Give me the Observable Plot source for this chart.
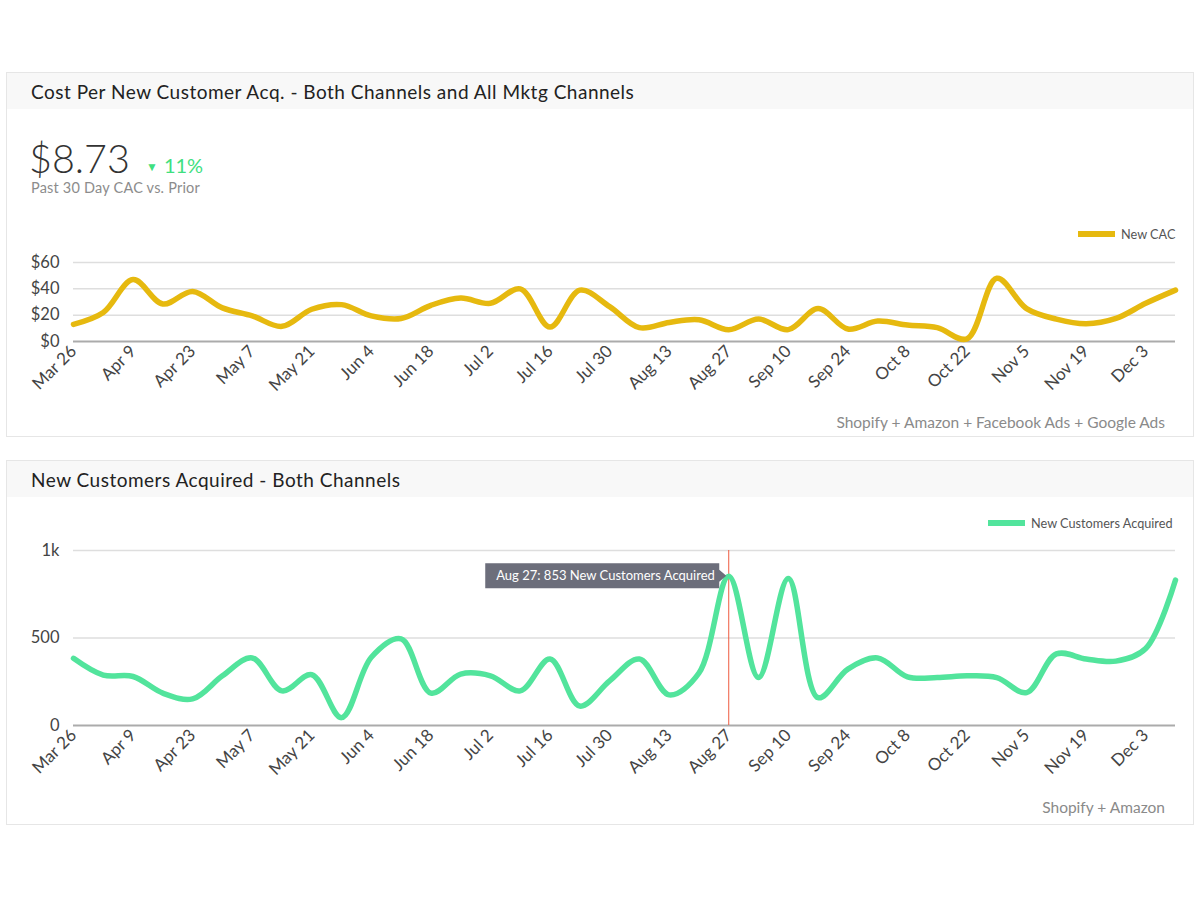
<!DOCTYPE html>
<html><head><meta charset="utf-8">
<script src="https://cdn.jsdelivr.net/npm/d3@7"></script>
<script src="https://cdn.jsdelivr.net/npm/@observablehq/plot@0.6"></script>
<style>
body{margin:0;width:1200px;height:900px;position:relative;background:#fff;font-family:Lato,"Open Sans",sans-serif;overflow:hidden;}
.card{position:absolute;left:6px;width:1186px;height:363px;border:1px solid #e6e6e6;background:#fff;}
.hdr{height:36px;background:#f8f8f8;font-size:19px;color:#222;padding-left:24px;line-height:38px;letter-spacing:0.5px;}
.abs{position:absolute;}
.legend{position:absolute;display:flex;align-items:center;font-size:12.7px;color:#555;}
.legend .sw{display:inline-block;width:37px;height:6px;margin-right:6px;}
.caption{position:absolute;right:35px;font-size:15.5px;color:#8a8a8a;}
.chart{position:absolute;left:0;}
</style></head>
<body>
<div class="card" style="top:72px"><div class="hdr">Cost Per New Customer Acq. - Both Channels and All Mktg Channels</div></div>
<div class="card" style="top:460px"><div class="hdr">New Customers Acquired - Both Channels</div></div>

<div class="abs" style="left:29px;top:134px;font-size:39.5px;color:#333;font-weight:300;">$8.73</div>
<div class="abs" style="left:146px;top:153px;font-size:20px;color:#3fe07f;"><span style="font-size:12px;position:relative;top:-2px;margin-right:6px;">▼</span>11%</div>
<div class="abs" style="left:31px;top:179px;font-size:14.5px;color:#8c8c8c;letter-spacing:0.2px;">Past 30 Day CAC vs. Prior</div>

<div class="legend" style="left:1078px;top:226px;"><span class="sw" style="background:#e6b90f"></span>New CAC</div>
<div class="legend" style="left:988px;top:515px;"><span class="sw" style="background:#52e49c"></span>New Customers Acquired</div>

<div id="c1" class="chart" style="top:250px"></div>
<div id="c2" class="chart" style="top:540px"></div>

<div class="caption" style="top:413px">Shopify + Amazon + Facebook Ads + Google Ads</div>
<div class="caption" style="top:798px">Shopify + Amazon</div>

<script>
const weeks = ["2017-03-26","2017-04-02","2017-04-09","2017-04-16","2017-04-23","2017-04-30","2017-05-07","2017-05-14","2017-05-21","2017-05-28",
"2017-06-04","2017-06-11","2017-06-18","2017-06-25","2017-07-02","2017-07-09","2017-07-16","2017-07-23","2017-07-30","2017-08-06",
"2017-08-13","2017-08-20","2017-08-27","2017-09-03","2017-09-10","2017-09-17","2017-09-24","2017-10-01","2017-10-08","2017-10-15",
"2017-10-22","2017-10-29","2017-11-05","2017-11-12","2017-11-19","2017-11-26","2017-12-03","2017-12-10"];
const newCAC = [13,22,47,28.5,38,25.5,19.5,11.5,24.5,28,19.5,17.5,27.5,33,29,40,11,39,26.5,10.5,14.5,16.5,9,17,9,25,9.5,15.5,12.5,10.5,2,48,25,17,13.5,17.5,29,39];
const newCustomers = [384,288,280,185,152,284,386,198,290,45,390,495,185,294,284,198,380,111,255,380,175,300,853,274,840,159,322,386,278,274,284,274,188,409,380,368,440,831];
const tickWeeks = ["2017-03-26","2017-04-09","2017-04-23","2017-05-07","2017-05-21","2017-06-04","2017-06-18","2017-07-02","2017-07-16","2017-07-30","2017-08-13","2017-08-27","2017-09-10","2017-09-24","2017-10-08","2017-10-22","2017-11-05","2017-11-19","2017-12-03"];
const cacTicks = [0,20,40,60];
const custTicks = [0,500,1000];
const highlight = {week:"2017-08-27", value:853, label:"Aug 27: 853 New Customers Acquired"};

const dates = weeks.map(d => new Date(d + "T00:00:00Z"));
const tickDates = tickWeeks.map(d => new Date(d + "T00:00:00Z"));
const cacData = dates.map((d,i) => ({date:d, value:newCAC[i]}));
const custData = dates.map((d,i) => ({date:d, value:newCustomers[i]}));
const fmt = d3.utcFormat("%b %-d");

function makeChart({data, ticks, tickFmt, color, top, plotH, extra = []}) {
  return Plot.plot({
    width: 1200, height: top + plotH + 75,
    marginLeft: 73, marginRight: 25, marginTop: top, marginBottom: 75,
    style: {fontFamily: "Lato, 'Open Sans', sans-serif", color: "#444", background: "transparent", overflow: "visible"},
    x: {type: "utc", domain: [dates[0], dates[dates.length-1]]},
    y: {domain: [ticks[0], ticks[ticks.length-1]]},
    marks: [
      Plot.gridY(ticks.slice(1), {stroke: "#dedede", strokeOpacity: 1, strokeWidth: 1.5}),
      Plot.ruleY([0], {stroke: "#ababab", strokeWidth: 2}),
      Plot.axisY({ticks, tickFormat: tickFmt, tickSize: 0, tickPadding: 14, fontSize: 16.5, label: null}),
      Plot.axisX({ticks: tickDates, tickFormat: fmt, tickSize: 0, tickPadding: 7, tickRotate: -45, fontSize: 17, label: null, style: {letterSpacing: "0.3px"}}),
      ...extra,
      Plot.line(data, {x: "date", y: "value", stroke: color, strokeWidth: 5.5, curve: "catmull-rom", strokeLinejoin: "round", strokeLinecap: "round"})
    ]
  });
}

const p1 = makeChart({data: cacData, ticks: cacTicks, tickFmt: d => "$" + d, color: "#e6b90f", top: 12, plotH: 79});
document.getElementById("c1").appendChild(p1);

const hlDate = new Date(highlight.week + "T00:00:00Z");
const p2 = makeChart({data: custData, ticks: custTicks, tickFmt: d => d >= 1000 ? (d/1000) + "k" : d, color: "#52e49c", top: 10, plotH: 175,
  extra: [Plot.ruleX([hlDate], {stroke: "#ef5b3f", strokeWidth: 1})]});
document.getElementById("c2").appendChild(p2);

// tooltip positioned with the chart's own scales
const sx = p2.scale("x"), sy = p2.scale("y");
const px = sx.apply(hlDate), py = sy.apply(highlight.value);
const g = d3.select(p2).append("g");
const L = px - 243, R = px - 9, T = py - 12.5, B = py + 12.5;
g.append("path")
  .attr("d", `M${L},${T}H${R}V${py-6}L${px-2},${py}L${R},${py+6}V${B}H${L}Z`)
  .attr("fill", "#6c6e7b");
g.append("text").attr("x", L + 11).attr("y", py).attr("dy", "0.35em")
  .attr("text-anchor", "start")
  .attr("fill", "#fff").attr("font-size", 13).attr("font-family", "Lato, 'Open Sans', sans-serif")
  .text(highlight.label);
</script>
</body></html>
